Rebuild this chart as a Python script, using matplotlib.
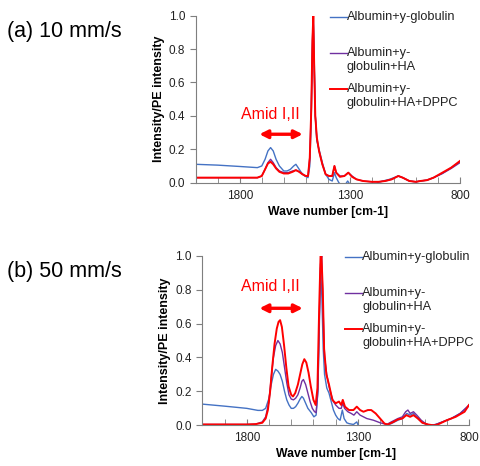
import matplotlib.pyplot as plt

plt.rcParams['font.family'] = ['Liberation Sans', 'DejaVu Sans']

# ---- data: (a) 10 mm/s ----
a_blue_wn = [2000, 1900, 1800, 1720, 1700, 1685, 1672, 1660, 1648, 1635, 1620, 1600, 1585,
             1570, 1555, 1545, 1535, 1520, 1505, 1490, 1482, 1476, 1470, 1466, 1462, 1457,
             1450, 1440, 1425, 1410, 1395, 1380, 1370, 1362, 1350, 1335, 1320, 1310, 1300,
             1285, 1260, 1220, 1190, 1175, 1150, 1120, 1100, 1080, 1060, 1030, 1000, 980,
             950, 920, 880, 840, 800]
a_blue_int = [0.11, 0.105, 0.097, 0.09, 0.10, 0.14, 0.19, 0.21, 0.19, 0.14, 0.10, 0.07, 0.07,
              0.08, 0.10, 0.11, 0.09, 0.06, 0.04, 0.03, 0.10, 0.35, 0.80, 0.97, 0.75, 0.40,
              0.25, 0.20, 0.12, 0.05, 0.02, 0.01, 0.06, 0.03, 0.00, -0.02, -0.01, 0.01, -0.01,
              -0.04, -0.06, -0.05, -0.02, 0.00, 0.01, 0.02, 0.03, 0.04, 0.03, 0.01, 0.005, 0.01,
              0.015, 0.03, 0.055, 0.09, 0.125]

a_purple_wn = [2000, 1900, 1800, 1720, 1700, 1685, 1672, 1660, 1648, 1635, 1620, 1600, 1580,
               1560, 1545, 1530, 1515, 1500, 1490, 1482, 1475, 1470, 1466, 1462, 1457, 1450,
               1440, 1425, 1410, 1395, 1380, 1370, 1362, 1345, 1325, 1307, 1290, 1270, 1240,
               1200, 1170, 1140, 1110, 1080, 1060, 1030, 1000, 980, 950, 920, 880, 840, 800]
a_purple_int = [0.03, 0.03, 0.03, 0.03, 0.04, 0.08, 0.12, 0.14, 0.12, 0.09, 0.07, 0.06, 0.06,
                0.07, 0.075, 0.065, 0.05, 0.04, 0.04, 0.15, 0.45, 0.85, 1.00, 0.70, 0.40, 0.27,
                0.19, 0.11, 0.05, 0.04, 0.04, 0.10, 0.06, 0.04, 0.04, 0.06, 0.04, 0.02, 0.01,
                0.005, 0.005, 0.01, 0.02, 0.04, 0.03, 0.01, 0.005, 0.01, 0.015, 0.03, 0.055,
                0.085, 0.12]

a_red_wn = [2000, 1900, 1800, 1720, 1700, 1685, 1672, 1660, 1648, 1635, 1620, 1600, 1580,
            1560, 1545, 1530, 1515, 1500, 1490, 1482, 1475, 1470, 1466, 1462, 1457, 1450,
            1440, 1425, 1410, 1395, 1380, 1370, 1362, 1345, 1325, 1307, 1290, 1270, 1240,
            1200, 1170, 1140, 1110, 1080, 1060, 1030, 1000, 980, 950, 920, 880, 840, 800]
a_red_int = [0.03, 0.03, 0.03, 0.03, 0.04, 0.08, 0.115, 0.125, 0.11, 0.085, 0.065, 0.055, 0.055,
             0.065, 0.075, 0.065, 0.05, 0.04, 0.04, 0.15, 0.45, 0.85, 1.00, 0.70, 0.40, 0.27,
             0.19, 0.11, 0.05, 0.04, 0.04, 0.10, 0.06, 0.035, 0.04, 0.06, 0.035, 0.02, 0.01,
             0.005, 0.005, 0.01, 0.02, 0.04, 0.03, 0.01, 0.005, 0.01, 0.015, 0.03, 0.06,
             0.09, 0.13]

# ---- data: (b) 50 mm/s ----
b_blue_wn = [2000, 1900, 1800, 1750, 1730, 1715, 1700, 1690, 1680, 1670, 1660, 1650, 1640,
             1630, 1620, 1610, 1600, 1590, 1580, 1570, 1560, 1552, 1545, 1535, 1525, 1510,
             1498, 1488, 1480, 1474, 1468, 1462, 1456, 1450, 1440, 1430, 1420, 1410, 1400,
             1390, 1380, 1370, 1362, 1350, 1340, 1320, 1305, 1295, 1285, 1260, 1220, 1190,
             1170, 1150, 1120, 1100, 1080, 1065, 1050, 1030, 1010, 990, 970, 950, 920, 880,
             840, 800]
b_blue_int = [0.125, 0.113, 0.10, 0.088, 0.088, 0.10, 0.16, 0.24, 0.30, 0.33, 0.32, 0.30, 0.26,
              0.20, 0.15, 0.12, 0.10, 0.10, 0.11, 0.13, 0.155, 0.17, 0.16, 0.13, 0.10, 0.075,
              0.05, 0.06, 0.20, 0.55, 0.93, 0.75, 0.45, 0.30, 0.22, 0.19, 0.14, 0.09, 0.06,
              0.04, 0.03, 0.09, 0.04, 0.015, 0.01, 0.005, 0.02, -0.01, -0.03, -0.05, -0.05,
              -0.02, 0.00, 0.01, 0.03, 0.04, 0.07, 0.06, 0.07, 0.04, 0.015, 0.005, 0.00, 0.005,
              0.02, 0.04, 0.07, 0.115]

b_purple_wn = [2000, 1900, 1800, 1760, 1730, 1715, 1700, 1690, 1680, 1670, 1660, 1650, 1640,
               1630, 1620, 1610, 1600, 1590, 1580, 1570, 1560, 1552, 1545, 1535, 1525, 1515,
               1505, 1495, 1488, 1480, 1474, 1468, 1463, 1457, 1450, 1440, 1430, 1420, 1410,
               1400, 1385, 1375, 1368, 1360, 1345, 1330, 1318, 1305, 1290, 1275, 1260, 1230,
               1200, 1170, 1150, 1120, 1100, 1085, 1075, 1065, 1050, 1035, 1015, 995, 975, 950,
               920, 880, 840, 800]
b_purple_int = [0.005, 0.005, 0.005, 0.007, 0.02, 0.05, 0.14, 0.28, 0.40, 0.47, 0.50, 0.48,
                0.43, 0.34, 0.25, 0.18, 0.155, 0.15, 0.16, 0.18, 0.22, 0.26, 0.27, 0.24, 0.19,
                0.14, 0.10, 0.08, 0.075, 0.20, 0.60, 0.95, 1.00, 0.70, 0.40, 0.30, 0.23, 0.18,
                0.14, 0.12, 0.10, 0.10, 0.13, 0.10, 0.08, 0.07, 0.06, 0.08, 0.06, 0.05, 0.04,
                0.03, 0.015, 0.005, 0.02, 0.04, 0.05, 0.08, 0.09, 0.07, 0.08, 0.06, 0.03, 0.01,
                0.00, 0.005, 0.02, 0.04, 0.07, 0.12]

b_red_wn = [2000, 1900, 1800, 1760, 1730, 1715, 1705, 1695, 1685, 1675, 1665, 1657, 1650,
            1642, 1632, 1622, 1612, 1600, 1592, 1582, 1570, 1560, 1550, 1541, 1532, 1522,
            1512, 1500, 1490, 1482, 1474, 1468, 1464, 1458, 1452, 1442, 1430, 1415, 1400,
            1385, 1375, 1368, 1358, 1340, 1320, 1305, 1290, 1275, 1255, 1240, 1220, 1200,
            1180, 1165, 1140, 1120, 1100, 1082, 1065, 1050, 1030, 1010, 985, 960, 940, 900,
            860, 820, 800]
b_red_int = [0.005, 0.005, 0.005, 0.007, 0.015, 0.04, 0.09, 0.20, 0.35, 0.48, 0.57, 0.61, 0.62,
             0.58, 0.47, 0.34, 0.23, 0.18, 0.17, 0.19, 0.24, 0.30, 0.36, 0.39, 0.37, 0.31,
             0.23, 0.15, 0.12, 0.22, 0.70, 1.00, 1.00, 0.80, 0.45, 0.30, 0.24, 0.15, 0.13,
             0.14, 0.12, 0.15, 0.11, 0.09, 0.09, 0.11, 0.09, 0.08, 0.09, 0.09, 0.07, 0.04,
             0.01, 0.005, 0.02, 0.035, 0.04, 0.06, 0.05, 0.06, 0.04, 0.015, 0.005, 0.00, 0.005,
             0.03, 0.05, 0.08, 0.12]

series_labels = ['Albumin+y-globulin', 'Albumin+y-\nglobulin+HA', 'Albumin+y-\nglobulin+HA+DPPC']
colors = ['#4472C4', '#7030A0', '#FF0000']
widths = [1.0, 1.0, 1.4]
x_tick_labels = [1800, 1300, 800]
y_ticks = [0.0, 0.2, 0.4, 0.6, 0.8, 1.0]


def draw_panel(ax, curves, title, arrow, text_pos, legend_y, legend_x):
    for (wn, val), col, lw in zip(curves, colors, widths):
        ax.plot(wn, val, color=col, lw=lw)
    ax.set_xlim(2000, 800)
    ax.set_ylim(0, 1)
    ax.set_xticks(range(800, 2001, 100), minor=True)
    ax.set_xticks(x_tick_labels)
    ax.set_yticks(y_ticks)
    ax.set_yticklabels([f'{v:.1f}' for v in y_ticks])
    ax.tick_params(axis='x', which='both', direction='in', length=4, color='#7f7f7f',
                   labelsize=8.5, labelcolor='#222222', pad=5)
    ax.tick_params(axis='y', direction='out', length=4, color='#7f7f7f',
                   labelsize=8.5, labelcolor='#222222')
    for s in ['top', 'right']:
        ax.spines[s].set_visible(False)
    for s in ['left', 'bottom']:
        ax.spines[s].set_color('#7f7f7f')
    ax.set_xlabel('Wave number [cm-1]', fontsize=8.8, fontweight='bold', labelpad=3)
    ax.set_ylabel('Intensity/PE intensity', fontsize=9, fontweight='bold', labelpad=3)
    ax.annotate('', xy=(arrow[0], arrow[2]), xytext=(arrow[1], arrow[2]),
                arrowprops=dict(arrowstyle='<|-|>', color='#FF0000', lw=2.4,
                                mutation_scale=12, shrinkA=0, shrinkB=0))
    ax.text(text_pos[0], text_pos[1], 'Amid I,II', color='#FF0000', fontsize=11.5,
            ha='center', va='center')
    # legend drawn by hand so the handle sits on the first text line
    for lab, col, lw, yy in zip(series_labels, colors, widths, legend_y):
        ax.plot([legend_x, legend_x + 0.065], [yy, yy], color=col, lw=lw,
                transform=ax.transAxes, clip_on=False)
        ax.text(legend_x + 0.065, yy + 0.037, lab, transform=ax.transAxes, fontsize=9.2,
                va='top', ha='left', linespacing=1.2, color='#222222')
    ax.figure.text(0.015, ax.get_position().y1 - 0.034, title, fontsize=15.5, va='center')


fig = plt.figure(figsize=(4.8, 4.66), dpi=100)
ax1 = fig.add_axes([0.4077, 0.608, 0.5506, 0.3584])
ax2 = fig.add_axes([0.4215, 0.0873, 0.5556, 0.364])

draw_panel(ax1,
           [(a_blue_wn, a_blue_int), (a_purple_wn, a_purple_int), (a_red_wn, a_red_int)],
           '(a) 10 mm/s', (1711, 1514, 0.29), (1660, 0.41),
           [0.99, 0.775, 0.56], 0.507)
draw_panel(ax2,
           [(b_blue_wn, b_blue_int), (b_purple_wn, b_purple_int), (b_red_wn, b_red_int)],
           '(b) 50 mm/s', (1743, 1548, 0.69), (1695, 0.82),
           [0.99, 0.78, 0.565], 0.535)

fig.savefig('out.png', dpi=100)
